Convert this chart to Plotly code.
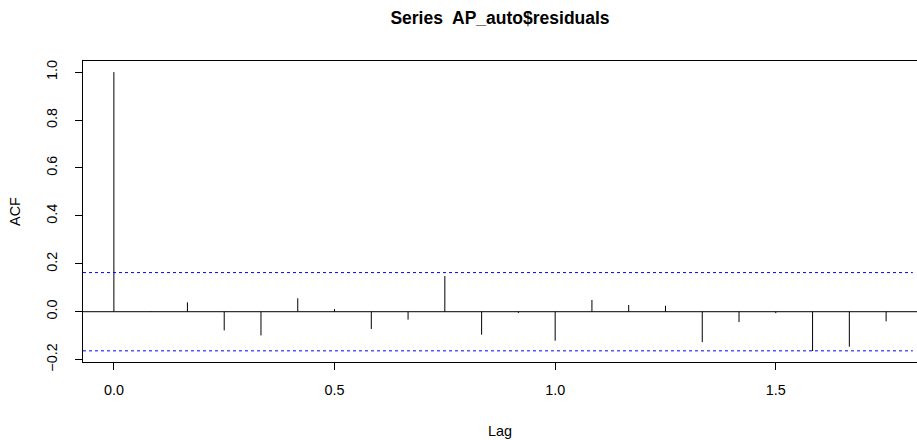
import plotly.graph_objects as go

# Data: ACF of residuals (lag in years, monthly series)
lag_index = list(range(22))
lags = [k / 12 for k in lag_index]
acf_values = [1.000, 0.002, 0.039, -0.078, -0.099, 0.056, 0.011, -0.072,
              -0.033, 0.149, -0.096, -0.005, -0.121, 0.049, 0.028, 0.025,
              -0.127, -0.043, -0.006, -0.164, -0.146, -0.040]
conf_limit = 0.1633
x_tick_vals = [0.0, 0.5, 1.0, 1.5]
x_tick_text = ["0.0", "0.5", "1.0", "1.5"]
y_tick_vals = [-0.2, 0.0, 0.2, 0.4, 0.6, 0.8, 1.0]
y_tick_text = ["\u22120.2", "0.0", "0.2", "0.4", "0.6", "0.8", "1.0"]

xs, ys = [], []
for lg, v in zip(lags, acf_values):
    xs += [lg, lg, None]
    ys += [0, v, None]

fig = go.Figure()
fig.add_trace(go.Scatter(x=xs, y=ys, mode="lines",
                         line=dict(color="black", width=1),
                         hoverinfo="skip", showlegend=False))

FONT = "Liberation Sans, Arial, sans-serif"
TICK = 14.4

fig.add_shape(type="line", xref="paper", x0=0, x1=1, yref="y", y0=0, y1=0,
              line=dict(color="black", width=1))
for c in (conf_limit, -conf_limit):
    fig.add_shape(type="line", xref="paper", x0=0, x1=0.995, yref="y", y0=c, y1=c,
                  line=dict(color="blue", width=1, dash="3px,3px"))

fig.update_layout(
    width=917, height=440,
    margin=dict(l=83, r=0, t=61, b=78, autoexpand=False),
    paper_bgcolor="white", plot_bgcolor="white",
    font=dict(family=FONT, size=TICK, color="black"),
    title=dict(text="<b>Series  AP_auto$residuals</b>", x=500 / 917,
               xanchor="center", y=1 - 18 / 440, yanchor="middle",
               font=dict(family=FONT, size=17.5, color="black")),
    xaxis=dict(range=[-0.07, 1.82], tickvals=x_tick_vals, ticktext=x_tick_text,
               ticks="outside", ticklen=7, tickcolor="black", showgrid=False,
               zeroline=False, showline=True, linecolor="black", linewidth=1,
               mirror=True, automargin=False, ticklabelstandoff=8,
               title=dict(text="Lag", standoff=28, font=dict(size=TICK)),
               tickfont=dict(size=TICK)),
    yaxis=dict(range=[-0.2099, 1.0465], tickvals=y_tick_vals, ticktext=y_tick_text,
               ticks="outside", ticklen=7, tickcolor="black", showgrid=False,
               zeroline=False, showline=True, linecolor="black", linewidth=1,
               tickangle=-90, automargin=False, ticklabelstandoff=12,
               title=dict(text="ACF", standoff=20, font=dict(size=TICK)),
               tickfont=dict(size=TICK)),
)

fig.write_html("out.html", config={"displayModeBar": False},
               post_script="document.body.style.margin='0';document.body.style.overflow='hidden';")
